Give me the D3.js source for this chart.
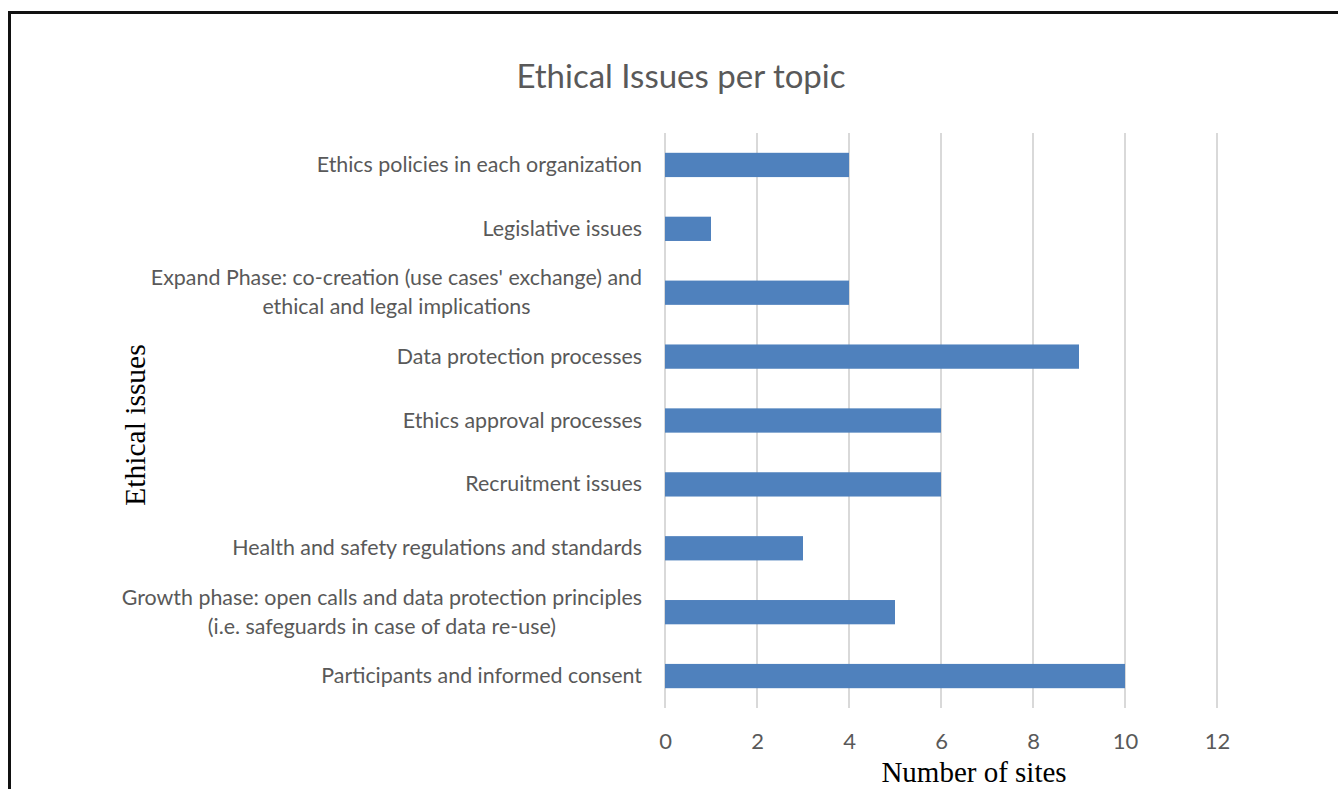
<!DOCTYPE html>
<html>
<head>
<meta charset="utf-8">
<script src="https://cdn.jsdelivr.net/npm/d3@7"></script>
<style>
  body { margin: 0; background: #fff; }
  svg { display: block; }
</style>
</head>
<body>
<div id="chart"></div>
<script>
// data, top to bottom as in the picture
var categories = [
    ["Ethics policies in each organization"],
    ["Legislative issues"],
    ["Expand Phase: co-creation (use cases' exchange) and", "ethical and legal implications"],
    ["Data protection processes"],
    ["Ethics approval processes"],
    ["Recruitment issues"],
    ["Health and safety regulations and standards"],
    ["Growth phase: open calls and data protection principles", "(i.e. safeguards in case of data re-use)"],
    ["Participants and informed consent"]
];
var values = [4, 1, 4, 9, 6, 6, 3, 5, 10];
var xTicks = [0, 2, 4, 6, 8, 10, 12];

var W = 1338, H = 789;
var plot = { left: 665, right: 1217, top: 133, bottom: 708 };
var sans = "Lato, 'Open Sans', sans-serif";
var serif = "'Liberation Serif', 'DejaVu Serif', serif";

var svg = d3.select("#chart").append("svg").attr("width", W).attr("height", H);

// frame (only top and left visible in the picture)
svg.append("path")
    .attr("d", "M9.5," + H + "V12.5H" + W)
    .attr("fill", "none").attr("stroke", "#111").attr("stroke-width", 3);

var x = d3.scaleLinear().domain([0, 12]).range([plot.left, plot.right]);
var y = d3.scaleBand().domain(d3.range(categories.length))
    .range([plot.top, plot.bottom]).paddingInner(0.62).paddingOuter(0.31);

// grid lines
svg.append("g").selectAll("line").data(xTicks).enter().append("line")
    .attr("x1", function (d) { return x(d); }).attr("x2", function (d) { return x(d); })
    .attr("y1", plot.top).attr("y2", plot.bottom)
    .attr("stroke", "#d9d9d9").attr("stroke-width", 2);

// bars
svg.append("g").selectAll("rect").data(values).enter().append("rect")
    .attr("x", x(0))
    .attr("y", function (d, i) { return y(i); })
    .attr("width", function (d) { return x(d) - x(0); })
    .attr("height", y.bandwidth())
    .attr("fill", "#4f81bd");

// x tick labels
var xAxis = d3.axisBottom(x).tickValues(xTicks).tickSize(0).tickPadding(0);
var gx = svg.append("g").call(xAxis);
gx.select(".domain").remove();
gx.selectAll("text")
    .attr("y", 749).attr("dy", null)
    .attr("font-family", sans)
    .attr("font-size", "22px")
    .attr("fill", "#595959");

// category labels
var lab = svg.append("g").selectAll("text").data(categories).enter().append("text")
    .attr("font-family", sans)
    .attr("font-size", "21.4px")
    .attr("fill", "#595959")
    .attr("text-anchor", "middle");

lab.each(function (lines, i) {
    var t = d3.select(this);
    var cy = y(i) + y.bandwidth() / 2;
    var lh = 29;
    lines.forEach(function (s, k) {
        t.append("tspan")
            .attr("y", cy + 7 + (k - (lines.length - 1) / 2) * lh)
            .text(s);
    });
    // right-align the block, centre lines within it
    var maxW = 0;
    t.selectAll("tspan").each(function () { maxW = Math.max(maxW, this.getComputedTextLength()); });
    t.selectAll("tspan").attr("x", 642 - maxW / 2);
});

// title
svg.append("text")
    .attr("x", 681).attr("y", 88)
    .attr("text-anchor", "middle")
    .attr("font-family", sans)
    .attr("font-size", "33px")
    .attr("fill", "#595959")
    .text("Ethical Issues per topic");

// axis titles
svg.append("text")
    .attr("transform", "translate(145,425) rotate(-90)")
    .attr("text-anchor", "middle")
    .attr("font-family", serif)
    .attr("font-size", "29.5px")
    .attr("fill", "#000")
    .text("Ethical issues");

svg.append("text")
    .attr("x", 974).attr("y", 782)
    .attr("text-anchor", "middle")
    .attr("font-family", serif)
    .attr("font-size", "29px")
    .attr("fill", "#000")
    .text("Number of sites");
</script>
</body>
</html>
